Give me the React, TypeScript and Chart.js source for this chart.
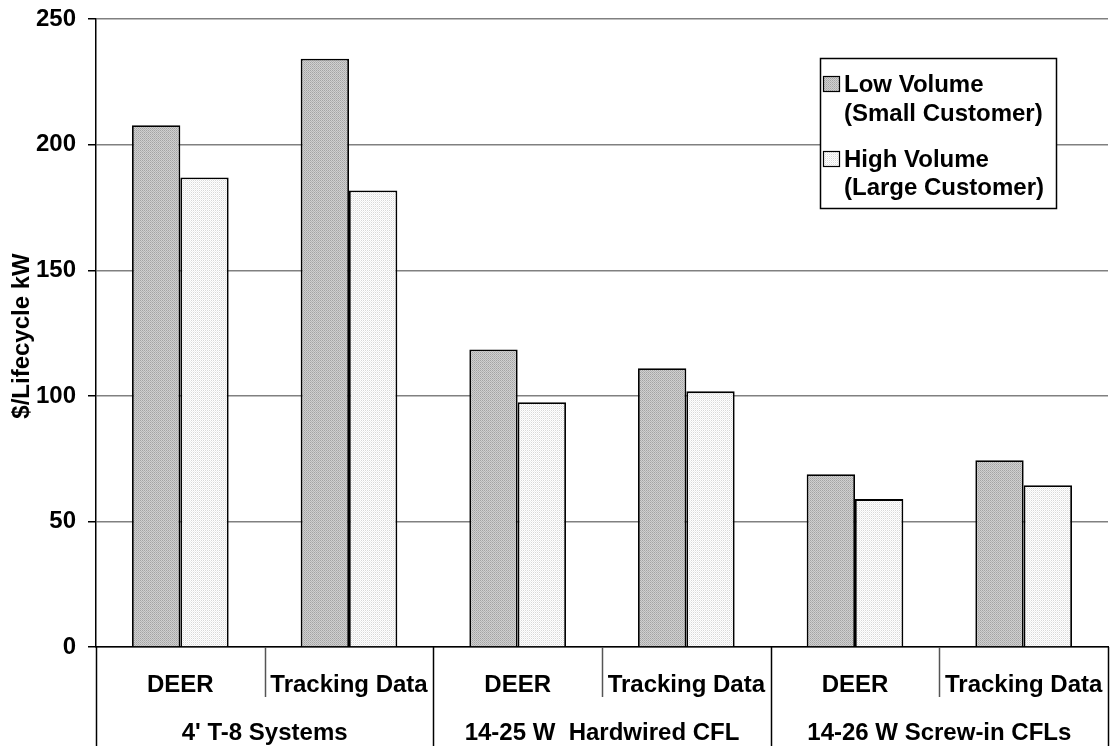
import React, { useEffect, useRef } from "react";
import { Chart, registerables } from "chart.js";

Chart.register(...registerables);

// Sub-category (tick) labels, group labels and series values
const subLabels = ["DEER", "Tracking Data", "DEER", "Tracking Data", "DEER", "Tracking Data"];
const groupLabels = ["4' T-8 Systems", "14-25 W  Hardwired CFL", "14-26 W Screw-in CFLs"];
const seriesNames = ["Low Volume", "High Volume"];
const seriesNotes = ["(Small Customer)", "(Large Customer)"];
const lowVolume = [207.8, 234.3, 118.5, 111.0, 68.8, 74.4];
const highVolume = [187.0, 181.8, 97.5, 101.8, 58.9, 64.4];
const yTicks = [0, 50, 100, 150, 200, 250];

const FONT = 'Arial, "Liberation Sans", Helvetica, sans-serif';

function makePattern(a: string, b: string, c: string, d: string): CanvasPattern | string {
  const off = document.createElement("canvas");
  off.width = 2;
  off.height = 2;
  const g = off.getContext("2d");
  if (!g) return a;
  g.fillStyle = a; g.fillRect(0, 0, 1, 1);
  g.fillStyle = b; g.fillRect(1, 0, 1, 1);
  g.fillStyle = c; g.fillRect(0, 1, 1, 1);
  g.fillStyle = d; g.fillRect(1, 1, 1, 1);
  const p = g.createPattern(off, "repeat");
  return p || a;
}

export default function App() {
  const canvasRef = useRef<HTMLCanvasElement | null>(null);

  useEffect(() => {
    const canvas = canvasRef.current;
    if (!canvas) return;
    const ctx = canvas.getContext("2d");
    if (!ctx) return;

    const lowFill = makePattern("#a4a4a4", "#d0d0d0", "#d0d0d0", "#b4b4b4");
    const highFill = makePattern("#ffffff", "#d8d8d8", "#eeeeee", "#ffffff");
    const fills = [lowFill, highFill];

    // Two-level category axis: tick labels, group labels and separators
    const categoryAxis = {
      id: "categoryAxis",
      afterDraw(chart: any) {
        const c = chart.ctx;
        const x = chart.scales.x;
        const area = chart.chartArea;
        const n = subLabels.length;
        const step = (area.right - area.left) / n;
        c.save();
        c.fillStyle = "#000";
        c.font = `bold 24px ${FONT}`;
        c.textAlign = "center";
        c.textBaseline = "alphabetic";
        subLabels.forEach((lab, i) => {
          c.fillText(lab, x.getPixelForValue(i), 692);
        });
        groupLabels.forEach((lab, g) => {
          const cx = (x.getPixelForValue(2 * g) + x.getPixelForValue(2 * g + 1)) / 2;
          c.fillText(lab, cx, 740);
        });
        for (let k = 0; k <= n; k++) {
          const px = Math.round(area.left + k * step) + 0.5;
          const long = k % 2 === 0;
          c.beginPath();
          c.strokeStyle = long ? "#000" : "#555";
          c.lineWidth = 1.5;
          c.moveTo(px, area.bottom);
          c.lineTo(px, long ? 746 : 697);
          c.stroke();
        }
        c.restore();
      },
    };

    // Y axis title and boxed legend
    const decorations = {
      id: "decorations",
      afterDraw(chart: any) {
        const c = chart.ctx;
        c.save();
        c.fillStyle = "#000";
        c.font = `bold 24px ${FONT}`;
        c.translate(29, 336);
        c.rotate(-Math.PI / 2);
        c.textAlign = "center";
        c.textBaseline = "alphabetic";
        c.fillText("$/Lifecycle kW", 0, 0);
        c.restore();

        c.save();
        c.fillStyle = "#fff";
        c.fillRect(820, 58, 237, 151);
        c.strokeStyle = "#000";
        c.lineWidth = 1.5;
        c.strokeRect(820.5, 58.5, 236, 150);
        const rows = [
          { sq: 76, b1: 92, b2: 121 },
          { sq: 151, b1: 167, b2: 195 },
        ];
        rows.forEach((r, i) => {
          c.fillStyle = fills[i] as any;
          c.fillRect(823, r.sq, 17, 16);
          c.strokeStyle = "#000";
          c.lineWidth = 1.2;
          c.strokeRect(823.5, r.sq + 0.5, 16, 15);
          c.fillStyle = "#000";
          c.font = `bold 24px ${FONT}`;
          c.textAlign = "left";
          c.textBaseline = "alphabetic";
          c.fillText(seriesNames[i], 844, r.b1);
          c.fillText(seriesNotes[i], 844, r.b2);
        });
        c.restore();
      },
    };

    const chart = new Chart(ctx, {
      type: "bar",
      data: {
        labels: subLabels,
        datasets: [
          {
            label: seriesNames[0],
            data: lowVolume,
            backgroundColor: lowFill as any,
            borderColor: "#000",
            borderWidth: 1.8,
            categoryPercentage: 0.573,
            barPercentage: 1,
          },
          {
            label: seriesNames[1],
            data: highVolume,
            backgroundColor: highFill as any,
            borderColor: "#000",
            borderWidth: 1.8,
            categoryPercentage: 0.573,
            barPercentage: 1,
          },
        ],
      },
      options: {
        responsive: false,
        animation: false,
        devicePixelRatio: 1,
        layout: { padding: { top: 18, right: 2, left: 0, bottom: 0 } },
        plugins: {
          legend: { display: false },
          tooltip: { enabled: false },
          title: { display: false },
        },
        scales: {
          x: {
            type: "category",
            grid: { display: false, drawTicks: false },
            border: { display: true, color: "#000", width: 1.5 },
            ticks: { display: false },
            afterFit(scale: any) {
              scale.height = 99;
            },
          },
          y: {
            min: 0,
            max: 250,
            afterBuildTicks(scale: any) {
              scale.ticks = yTicks.map((v) => ({ value: v }));
            },
            grid: {
              color: "#808080",
              lineWidth: 1.5,
              tickLength: 8,
              tickColor: "#000",
              drawTicks: true,
            },
            border: { display: true, color: "#000", width: 1.5 },
            ticks: {
              color: "#000",
              padding: 12,
              font: { family: FONT, size: 24, weight: "bold", lineHeight: 0.6 },
            },
            afterFit(scale: any) {
              scale.width = 96;
            },
          },
        },
      },
      plugins: [categoryAxis, decorations],
    } as any);

    return () => chart.destroy();
  }, []);

  return (
    <div style={{ position: "fixed", left: 0, top: 0, width: 1110, height: 746, background: "#fff" }}>
      <canvas ref={canvasRef} width={1110} height={746} style={{ display: "block", width: 1110, height: 746 }} />
    </div>
  );
}
